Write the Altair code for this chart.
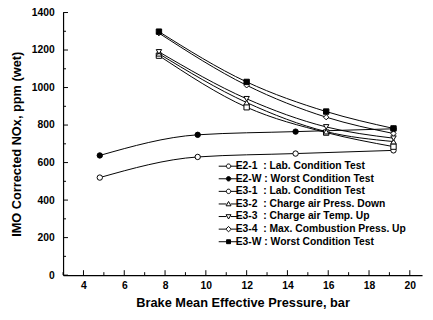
import altair as alt
import pandas as pd

# ---- data ----
NB = "\u00a0"
series_names = [
    "E2-1" + NB + NB + ": Lab. Condition Test",
    "E2-W : Worst Condition Test",
    "E3-1" + NB + NB + ": Lab. Condition Test",
    "E3-2" + NB + NB + ": Charge air Press. Down",
    "E3-3" + NB + NB + ": Charge air Temp. Up",
    "E3-4" + NB + NB + ": Max. Combustion Press. Up",
    "E3-W : Worst Condition Test",
]
bmep_e2 = [4.8, 9.6, 14.4, 19.2]
bmep_e3 = [7.7, 12.0, 15.9, 19.2]
nox_e2_1 = [520, 630, 648, 665]
nox_e2_w = [638, 748, 765, 780]
nox_e3_1 = [1170, 895, 760, 685]
nox_e3_2 = [1180, 920, 765, 712]
nox_e3_3 = [1190, 940, 790, 730]
nox_e3_4 = [1290, 1012, 842, 755]
nox_e3_w = [1298, 1030, 872, 782]

x_major = [4, 6, 8, 10, 12, 14, 16, 18, 20]
x_minor = [3, 5, 7, 9, 11, 13, 15, 17, 19]
y_major = [0, 200, 400, 600, 800, 1000, 1200, 1400]
y_minor = [100, 300, 500, 700, 900, 1100, 1300]

plot_shapes = ["circle", "circle", "square", "triangle-up", "triangle-down", "diamond", "square"]
fills = ["white", "black", "white", "white", "white", "white", "black"]
strokes = ["black"] * 7

CIRC = "M0.9,0A0.9,0.9 0 1,1 -0.9,0A0.9,0.9 0 1,1 0.9,0Z"
STUBS_C = "M-4,0H-0.9M0.9,0H4"
legend_shapes = [
    STUBS_C + CIRC,
    STUBS_C + CIRC,
    STUBS_C + CIRC,
    "M-4,0H-0.9M0.9,0H4M0,-1L1,0.75L-1,0.75Z",
    "M-4,0H-0.9M0.9,0H4M0,1L1,-0.75L-1,-0.75Z",
    "M-4,0H-1.1M1.1,0H4M0,-1.1L1.1,0L0,1.1L-1.1,0Z",
    "M-4,0H-0.8M0.8,0H4M-0.8,-0.8H0.8V0.8H-0.8Z",
]

rows = []
for name, xs, ys in [
    (series_names[0], bmep_e2, nox_e2_1),
    (series_names[1], bmep_e2, nox_e2_w),
    (series_names[2], bmep_e3, nox_e3_1),
    (series_names[3], bmep_e3, nox_e3_2),
    (series_names[4], bmep_e3, nox_e3_3),
    (series_names[5], bmep_e3, nox_e3_4),
    (series_names[6], bmep_e3, nox_e3_w),
]:
    for x, y in zip(xs, ys):
        rows.append({"series": name, "bmep": x, "nox": y})
df = pd.DataFrame(rows)

W, H = 365, 267
FONT = "Liberation Sans"

xscale = alt.Scale(domain=[3, 20.6], nice=False, zero=False)
yscale = alt.Scale(domain=[0, 1400], nice=False)
XT = "Brake Mean Effective Pressure, bar"
YT = "IMO Corrected NOx, ppm (wet)"

xaxis = alt.Axis(values=x_major, ticks=False, grid=False, labelFont=FONT, labelFontSize=10.5,
                 labelFontWeight="bold", labelColor="black", labelPadding=6,
                 titleFont=FONT, titleFontSize=13, titleFontWeight="bold", titleColor="black",
                 titlePadding=5, domainColor="black", domainWidth=1.2)
yaxis = alt.Axis(values=y_major, format="d", ticks=False, grid=False, labelFont=FONT, labelFontSize=10.5,
                 labelFontWeight="bold", labelColor="black", labelPadding=9,
                 titleFont=FONT, titleFontSize=13, titleFontWeight="bold", titleColor="black",
                 titlePadding=8, domainColor="black", domainWidth=1.2)

X = alt.X("bmep:Q", scale=xscale, axis=xaxis, title=XT)
Y = alt.Y("nox:Q", scale=yscale, axis=yaxis, title=YT)

lines = alt.Chart(df).mark_line(interpolate="monotone", color="black", strokeWidth=1).encode(
    x=X, y=Y, detail="series:N"
)

points = alt.Chart(df).mark_point(filled=True, stroke="black", strokeWidth=1, size=30, opacity=1).encode(
    x=X, y=Y,
    shape=alt.Shape("series:N", scale=alt.Scale(domain=series_names, range=plot_shapes), legend=None),
    fill=alt.Fill("series:N", scale=alt.Scale(domain=series_names, range=fills), legend=None),
)

leg = dict(title=None, orient="none", legendX=163, legendY=151,
           symbolSize=25, symbolStrokeColor="black", symbolStrokeWidth=1,
           symbolOpacity=1, labelFont=FONT, labelFontSize=10.5,
           labelFontWeight="bold", labelColor="black", labelOffset=2,
           rowPadding=1.8, padding=0, labelLimit=300)

legend_layer = alt.Chart(df).mark_point(filled=True, strokeWidth=1, opacity=0).encode(
    x=X, y=Y,
    shape=alt.Shape("series:N", scale=alt.Scale(domain=series_names, range=legend_shapes),
                    legend=alt.Legend(**leg)),
    fill=alt.Fill("series:N", scale=alt.Scale(domain=series_names, range=fills),
                  legend=alt.Legend(**leg)),
    stroke=alt.Stroke("series:N", scale=alt.Scale(domain=series_names, range=strokes),
                      legend=alt.Legend(**leg)),
)

ymaj = alt.Chart(pd.DataFrame({"nox": y_major})).mark_rule(color="black", strokeWidth=1).encode(
    y=Y, x=alt.value(0), x2=alt.value(5))
ymin = alt.Chart(pd.DataFrame({"nox": y_minor})).mark_rule(color="black", strokeWidth=1).encode(
    y=Y, x=alt.value(0), x2=alt.value(3))
xmaj = alt.Chart(pd.DataFrame({"bmep": x_major})).mark_rule(color="black", strokeWidth=1).encode(
    x=X, y=alt.value(H), y2=alt.value(H - 5))
xmin = alt.Chart(pd.DataFrame({"bmep": x_minor})).mark_rule(color="black", strokeWidth=1).encode(
    x=X, y=alt.value(H), y2=alt.value(H - 3))

chart = alt.layer(lines, points, legend_layer, ymaj, ymin, xmaj, xmin).resolve_scale(
    shape="independent", fill="independent", stroke="independent"
).properties(
    width=W, height=H,
    autosize=alt.AutoSizeParams(type="none"),
    padding={"left": 56, "top": 2, "right": 3, "bottom": 40},
    background="white",
).configure_view(stroke=None)

chart.save("out.html", embed_options={"renderer": "svg", "actions": False})
